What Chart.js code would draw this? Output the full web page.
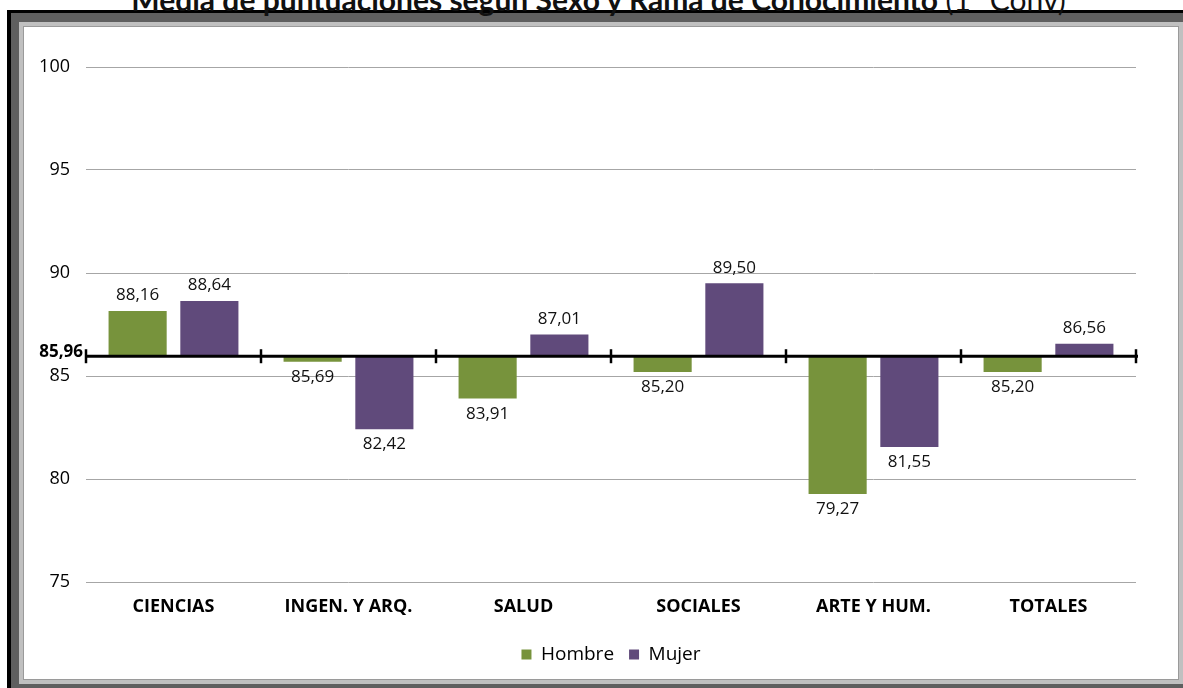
<!DOCTYPE html>
<html>
<head>
<meta charset="utf-8">
<script src="https://cdn.jsdelivr.net/npm/chart.js@4/dist/chart.umd.min.js"></script>
<style>
  html, body { margin:0; padding:0; background:#fff; width:1183px; height:688px; overflow:hidden; }
  #title { position:absolute; left:7px; width:1183px; top:-16px; text-align:center; font-family:Lato, sans-serif; font-size:30px; line-height:30px; color:#111; white-space:nowrap; z-index:1; }
  #title b { font-weight:700; }
  #title span { font-weight:400; }
  .f { position:absolute; box-sizing:border-box; }
  #f1 { left:7px; top:10px; width:1190px; height:690px; background:#000; }
  #f2 { left:11px; top:13px; width:1190px; height:675px; background:#5f5f5f; }
  #f3 { left:19px; top:22px; width:1164px; height:662px; background:#c0c0c0; }
  #f4 { left:23px; top:26px; width:1156px; height:654px; background:#fff; border:1px solid #9a9a9a; }
  #c { position:absolute; left:0; top:0; z-index:2; }
</style>
</head>
<body>
<div id="title"><b>Media de puntuaciones según Sexo y Rama de Conocimiento</b> <span>(1ª Conv)</span></div>
<div class="f" id="f1"></div>
<div class="f" id="f2"></div>
<div class="f" id="f3"></div>
<div class="f" id="f4"></div>
<canvas id="c" width="1183" height="688"></canvas>
<script>
const categories = ['CIENCIAS', 'INGEN. Y ARQ.', 'SALUD', 'SOCIALES', 'ARTE Y HUM.', 'TOTALES'];
const hombre = [88.16, 85.69, 83.91, 85.20, 79.27, 85.20];
const mujer  = [88.64, 82.42, 87.01, 89.50, 81.55, 86.56];
const baseValue = 85.96;
const yTicks = [75, 80, 85, 90, 95, 100];

const FONT = '"Open Sans", sans-serif';
const fmt = v => v.toFixed(2).replace('.', ',');

const baselinePlugin = {
  id: 'baseline',
  afterDatasetsDraw(chart) {
    const {ctx, chartArea, scales} = chart;
    const y = scales.y.getPixelForValue(baseValue);
    ctx.save();
    ctx.strokeStyle = '#000';
    ctx.lineWidth = 3;
    ctx.beginPath();
    ctx.moveTo(chartArea.left, y);
    ctx.lineTo(chartArea.right + 2, y);
    ctx.stroke();
    ctx.lineWidth = 2.5;
    const n = categories.length;
    const w = (chartArea.right - chartArea.left) / n;
    for (let i = 0; i <= n; i++) {
      const x = Math.round(chartArea.left + i * w);
      ctx.beginPath();
      ctx.moveTo(x, y - 7);
      ctx.lineTo(x, y + 7);
      ctx.stroke();
    }
    ctx.fillStyle = '#000';
    ctx.font = 'bold 17px ' + FONT;
    ctx.textAlign = 'right';
    ctx.textBaseline = 'middle';
    ctx.fillText(fmt(baseValue), chartArea.left - 3, y - 4);
    // data labels
    ctx.font = '17px ' + FONT;
    ctx.fillStyle = '#111';
    ctx.textAlign = 'center';
    chart.data.datasets.forEach((ds, di) => {
      const meta = chart.getDatasetMeta(di);
      meta.data.forEach((el, i) => {
        const v = ds.values[i];
        const py = scales.y.getPixelForValue(v);
        if (v >= baseValue) {
          ctx.textBaseline = 'bottom';
          ctx.fillText(fmt(v), el.x, py - 7);
        } else {
          ctx.textBaseline = 'top';
          ctx.fillText(fmt(v), el.x, py + 7);
        }
      });
    });
    ctx.restore();
  }
};

new Chart(document.getElementById('c'), {
  type: 'bar',
  data: {
    labels: categories,
    datasets: [
      { label: 'Hombre', values: hombre, data: hombre.map(v => [baseValue, v]), backgroundColor: '#77933c', borderWidth: 0 },
      { label: 'Mujer', values: mujer, data: mujer.map(v => [baseValue, v]), backgroundColor: '#604a7b', borderWidth: 0 }
    ]
  },
  options: {
    responsive: false,
    animation: false,
    layout: { padding: { top: 67, right: 47, bottom: 14, left: 0 } },
    datasets: { bar: { categoryPercentage: 0.82, barPercentage: 0.81 } },
    plugins: {
      legend: {
        position: 'bottom',
        fullSize: false,
        labels: { font: { family: FONT, size: 19 }, color: '#000', boxWidth: 10, boxHeight: 10, padding: 15 }
      },
      tooltip: { enabled: false }
    },
    scales: {
      x: {
        grid: { display: false, drawTicks: false },
        border: { display: false },
        ticks: { font: { family: FONT, size: 18, weight: 'bold' }, color: '#000', padding: 14 },
        afterFit(s) { s.height = 48; }
      },
      y: {
        min: 75, max: 100,
        afterBuildTicks(s) { s.ticks = yTicks.map(v => ({ value: v })); },
        grid: { color: '#a6a6a6', drawTicks: false },
        border: { display: false },
        ticks: { font: { family: FONT, size: 18 }, color: '#000', padding: 16 },
        afterFit(s) { s.width = 86; }
      }
    }
  },
  plugins: [baselinePlugin]
});
</script>
</body>
</html>
